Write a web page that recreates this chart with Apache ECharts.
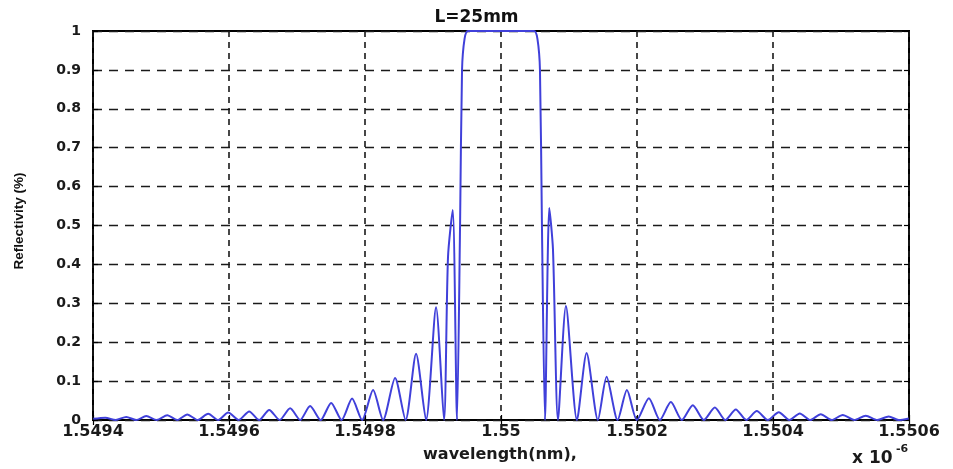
<!DOCTYPE html>
<html>
<head>
<meta charset="utf-8">
<script src="https://cdn.jsdelivr.net/npm/echarts@6/dist/echarts.min.js"></script>
<style>
html,body{margin:0;padding:0;background:#ffffff;}
#chart{width:953px;height:469px;}
</style>
</head>
<body>
<div id="chart"></div>
<script>
// wavelength (x 10^-6): alternating lobe peaks and nulls
const wavelength = [
  1.5494004, 1.5494181, 1.5494335, 1.5494489, 1.5494636, 1.5494783, 1.5494938, 1.5495092,
  1.5495239, 1.5495386, 1.5495540, 1.5495694, 1.5495841, 1.5495988, 1.5496143, 1.5496297,
  1.5496444, 1.5496591, 1.5496745, 1.5496899, 1.5497046, 1.5497193, 1.5497348, 1.5497502,
  1.5497656, 1.5497810, 1.5497957, 1.5498119, 1.5498266, 1.5498442, 1.5498597, 1.5498751,
  1.5498898, 1.5499045, 1.5499162, 1.5499221, 1.5499290, 1.5499353, 1.5499398, 1.5499427,
  1.5499464, 1.5499515, 1.5500000,
  1.5500485, 1.5500536, 1.5500573, 1.5500602, 1.5500647, 1.5500710, 1.5500764, 1.5500838,
  1.5500955, 1.5501117, 1.5501259, 1.5501425, 1.5501553, 1.5501715, 1.5501852, 1.5501999,
  1.5502175, 1.5502336, 1.5502498, 1.5502660, 1.5502821, 1.5502983, 1.5503145, 1.5503299,
  1.5503453, 1.5503608, 1.5503762, 1.5503924, 1.5504085, 1.5504240, 1.5504394, 1.5504548,
  1.5504702, 1.5504864, 1.5505026, 1.5505195, 1.5505364, 1.5505533, 1.5505702, 1.5505849,
  1.5505996
];
// reflectivity values
const reflectivity = [
  0.003, 0.006, 0, 0.008, 0, 0.010, 0, 0.012,
  0, 0.014, 0, 0.016, 0, 0.019, 0, 0.022,
  0, 0.026, 0, 0.030, 0, 0.036, 0, 0.044,
  0, 0.055, 0, 0.077, 0, 0.108, 0, 0.170,
  0, 0.290, 0, 0.420, 0.540, 0, 0.500, 0.900,
  0.980, 1.000, 1.000,
  1.000, 0.980, 0.900, 0.500, 0, 0.545, 0.440, 0,
  0.293, 0, 0.172, 0, 0.111, 0, 0.077, 0,
  0.056, 0, 0.046, 0, 0.038, 0, 0.032, 0,
  0.027, 0, 0.023, 0, 0.020, 0, 0.017, 0,
  0.015, 0, 0.013, 0, 0.011, 0, 0.009, 0,
  0.004
];
const xMin = 1.5494, xMax = 1.5506, xStep = 0.0002;
const yMin = 0, yMax = 1, yStep = 0.1;
const titleText = 'L=25mm';
const xName = 'wavelength(nm),';
const yName = 'Reflectivity (%)';

const chart = echarts.init(document.getElementById('chart'));
const fmtX = v => String(parseFloat(v.toFixed(4)));
const fmtY = v => String(parseFloat(v.toFixed(1)));
const gridLineH = {show: true, lineStyle: {color: '#1a1a1a', type: [9, 7], width: 1.4}};
const gridLineV = {show: true, lineStyle: {color: '#1a1a1a', type: [6, 5], width: 1.6}};
const tick = {show: true, inside: true, length: 5, lineStyle: {color: '#000', width: 1.2}};
chart.setOption({
  animation: false,
  backgroundColor: '#ffffff',
  title: {
    text: titleText, left: 'center', top: 4,
    textStyle: {fontFamily: 'DejaVu Sans', fontWeight: 'bold', fontSize: 17, color: '#111'}
  },
  grid: {left: 93, right: 44, top: 31, bottom: 49, show: true, borderColor: '#000', borderWidth: 2, backgroundColor: 'transparent'},
  xAxis: [{
    type: 'value', min: xMin, max: xMax, interval: xStep,
    axisLine: {show: false}, axisTick: tick, splitLine: gridLineV,
    axisLabel: {formatter: fmtX, margin: 4, fontFamily: 'DejaVu Sans', fontWeight: 'bold', fontSize: 16, color: '#1a1a1a', showMinLabel: true, showMaxLabel: true}
  }, {
    type: 'value', position: 'top', min: xMin, max: xMax, interval: xStep,
    axisLine: {show: false}, axisTick: tick, splitLine: {show: false}, axisLabel: {show: false}
  }],
  yAxis: [{
    type: 'value', min: yMin, max: yMax, interval: yStep,
    axisLine: {show: false}, axisTick: tick, splitLine: gridLineH,
    axisLabel: {formatter: fmtY, margin: 12, fontFamily: 'DejaVu Sans', fontWeight: 'bold', fontSize: 14, color: '#1a1a1a'}
  }, {
    type: 'value', position: 'right', min: yMin, max: yMax, interval: yStep,
    axisLine: {show: false}, axisTick: tick, splitLine: {show: false}, axisLabel: {show: false}
  }],
  graphic: [
    {type: 'text', x: 19, y: 221, rotation: Math.PI / 2,
     style: {text: yName, fontFamily: 'Liberation Sans', fontWeight: 'bold', fontSize: 13.5, fill: '#111', align: 'center', verticalAlign: 'middle'}},
    {type: 'text', x: 500, y: 455,
     style: {text: xName, fontFamily: 'DejaVu Sans', fontWeight: 'bold', fontSize: 16, fill: '#1a1a1a', align: 'center', verticalAlign: 'middle'}},
    {type: 'text', x: 852, y: 459,
     style: {text: 'x 10', fontFamily: 'DejaVu Sans', fontWeight: 'bold', fontSize: 17, fill: '#1a1a1a', align: 'left', verticalAlign: 'middle'}},
    {type: 'text', x: 896, y: 449,
     style: {text: '-6', fontFamily: 'DejaVu Sans', fontWeight: 'bold', fontSize: 11, fill: '#1a1a1a', align: 'left', verticalAlign: 'middle'}}
  ],
  series: [{
    type: 'line',
    data: wavelength.map((w, i) => [w, reflectivity[i]]),
    showSymbol: false,
    smooth: 0.25,
    clip: true,
    lineStyle: {color: '#4040da', width: 2},
    z: 3
  }]
});
</script>
</body>
</html>
